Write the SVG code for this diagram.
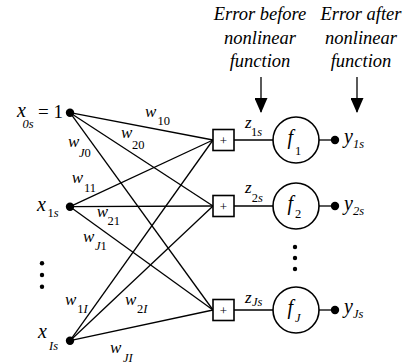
<svg xmlns="http://www.w3.org/2000/svg" width="409" height="363" viewBox="0 0 409 363">
<defs>
<marker id="ah" markerWidth="15" markerHeight="13" refX="14" refY="6.5" orient="auto" markerUnits="userSpaceOnUse" viewBox="0 0 15 13">
<path d="M0,0 L15,6.5 L0,13 Z" fill="#000"/>
</marker>
</defs>
<style>
text{font-family:"Liberation Serif","Times New Roman",serif;fill:#000}
.i{font-style:italic}
.hd{font-size:18.5px;font-style:italic}
.x{font-size:20px;font-style:italic}
.w{font-size:17px;font-style:italic}
.s{font-size:12.5px}
.ln{stroke:#000;stroke-width:1.3;fill:none}
.box{fill:#fff;stroke:#000;stroke-width:1.6}
.cir{fill:#fff;stroke:#000;stroke-width:1.6}
.dot{fill:#000}
</style>
<rect width="409" height="363" fill="#fff"/>

<g id="headings" class="hd" text-anchor="middle">
<text x="260" y="20">Error before</text>
<text x="260" y="43.5">nonlinear</text>
<text x="260" y="67">function</text>
<text x="361" y="20">Error after</text>
<text x="361" y="43.5">nonlinear</text>
<text x="361" y="67">function</text>
</g>

<g id="connectors">
<line class="ln" x1="70" y1="112.7" x2="213" y2="140"/>
<line class="ln" x1="70" y1="112.7" x2="213" y2="206"/>
<line class="ln" x1="70" y1="112.7" x2="213" y2="310"/>
<line class="ln" x1="70" y1="206.7" x2="213" y2="140"/>
<line class="ln" x1="70" y1="206.7" x2="213" y2="206"/>
<line class="ln" x1="70" y1="206.7" x2="213" y2="310"/>
<line class="ln" x1="70" y1="340.7" x2="213" y2="140"/>
<line class="ln" x1="70" y1="340.7" x2="213" y2="206"/>
<line class="ln" x1="70" y1="340.7" x2="213" y2="310"/>
<line class="ln" x1="234" y1="140" x2="273" y2="140"/>
<line class="ln" x1="234" y1="206" x2="273" y2="206"/>
<line class="ln" x1="234" y1="310" x2="273" y2="310"/>
<line class="ln" x1="319" y1="140" x2="335" y2="140"/>
<line class="ln" x1="319" y1="206" x2="335" y2="206"/>
<line class="ln" x1="319" y1="310" x2="335" y2="310"/>
<line class="ln" x1="261" y1="77" x2="261" y2="112" marker-end="url(#ah)"/>
<line class="ln" x1="357" y1="77" x2="357" y2="112" marker-end="url(#ah)"/>
</g>

<g id="weights">
<text class="w" x="145" y="116.7">w</text><text class="s" x="157.5" y="125">10</text>
<text class="w" x="121" y="138">w</text><text class="s" x="132" y="149">20</text>
<text class="w" x="68" y="146.7">w</text><text class="s" x="79" y="156.7"><tspan class="i">J</tspan>0</text>
<text class="w" x="71.7" y="183">w</text><text class="s" x="84" y="191.7">11</text>
<text class="w" x="96.7" y="216.7">w</text><text class="s" x="107.5" y="225">21</text>
<text class="w" x="83" y="241.7">w</text><text class="s" x="95" y="250"><tspan class="i">J</tspan>1</text>
<text class="w" x="65" y="305">w</text><text class="s" x="77.3" y="312.7">1<tspan class="i">I</tspan></text>
<text class="w" x="125" y="305">w</text><text class="s" x="137" y="313.3">2<tspan class="i">I</tspan></text>
<text class="w" x="110" y="353.3">w</text><text class="s" x="123" y="361.5"><tspan class="i">JI</tspan></text>
</g>

<g id="in0">
<circle class="dot" cx="70" cy="112.7" r="4.2"/>
<text class="x" x="17" y="117">x</text><text class="s i" x="22.5" y="128">0s</text><text style="font-size:19px" x="38" y="118">= 1</text>
</g>
<g id="in1">
<circle class="dot" cx="70" cy="206.7" r="4.2"/>
<text class="x" x="37" y="210.7">x</text><text class="s" x="47.5" y="216.7">1<tspan class="i">s</tspan></text>
</g>
<g id="inDots" class="dot">
<circle cx="42" cy="263.3" r="2.2"/>
<circle cx="42" cy="275" r="2.2"/>
<circle cx="42" cy="286.7" r="2.2"/>
</g>
<g id="inI">
<circle class="dot" cx="70" cy="340.7" r="4.2"/>
<text class="x" x="38" y="338">x</text><text class="s i" x="49" y="350">Is</text>
</g>

<g id="sum1">
<rect class="box" x="213" y="129.5" width="21" height="21"/>
<text style="font-size:13px" x="223.5" y="144.5" text-anchor="middle">+</text>
</g>
<g id="sum2">
<rect class="box" x="213" y="195.5" width="21" height="21"/>
<text style="font-size:13px" x="223.5" y="210.5" text-anchor="middle">+</text>
</g>
<g id="sumJ">
<rect class="box" x="213" y="299.5" width="21" height="21"/>
<text style="font-size:13px" x="223.5" y="314.5" text-anchor="middle">+</text>
</g>

<g id="zlabels">
<text class="w" x="245" y="128.3">z</text><text class="s" x="251" y="136">1<tspan class="i">s</tspan></text>
<text class="w" x="245" y="193.3">z</text><text class="s" x="251.7" y="201.7">2<tspan class="i">s</tspan></text>
<text class="w" x="245" y="303.3">z</text><text class="s i" x="252" y="305.5">Js</text>
</g>

<g id="f1">
<circle class="cir" cx="296" cy="140" r="23"/>
<text class="x" x="287.5" y="144">f</text><text class="s" x="295" y="155">1</text>
</g>
<g id="f2">
<circle class="cir" cx="296" cy="206" r="23"/>
<text class="x" x="287.5" y="210">f</text><text class="s" x="295" y="218">2</text>
</g>
<g id="fDots" class="dot">
<circle cx="295" cy="247" r="2.2"/>
<circle cx="295" cy="258" r="2.2"/>
<circle cx="295" cy="269" r="2.2"/>
</g>
<g id="fJ">
<circle class="cir" cx="296" cy="310" r="23"/>
<text class="x" x="287.5" y="314">f</text><text class="s i" x="295" y="322">J</text>
</g>

<g id="out1">
<circle class="dot" cx="335" cy="140" r="4.2"/>
<text class="x" x="344" y="143.3">y</text><text class="s i" x="353" y="148.3">1s</text>
</g>
<g id="out2">
<circle class="dot" cx="335" cy="206" r="4.2"/>
<text class="x" x="344" y="210">y</text><text class="s i" x="353" y="215">2s</text>
</g>
<g id="outJ">
<circle class="dot" cx="335" cy="310" r="4.2"/>
<text class="x" x="344" y="313">y</text><text class="s i" x="353" y="318">Js</text>
</g>
</svg>
